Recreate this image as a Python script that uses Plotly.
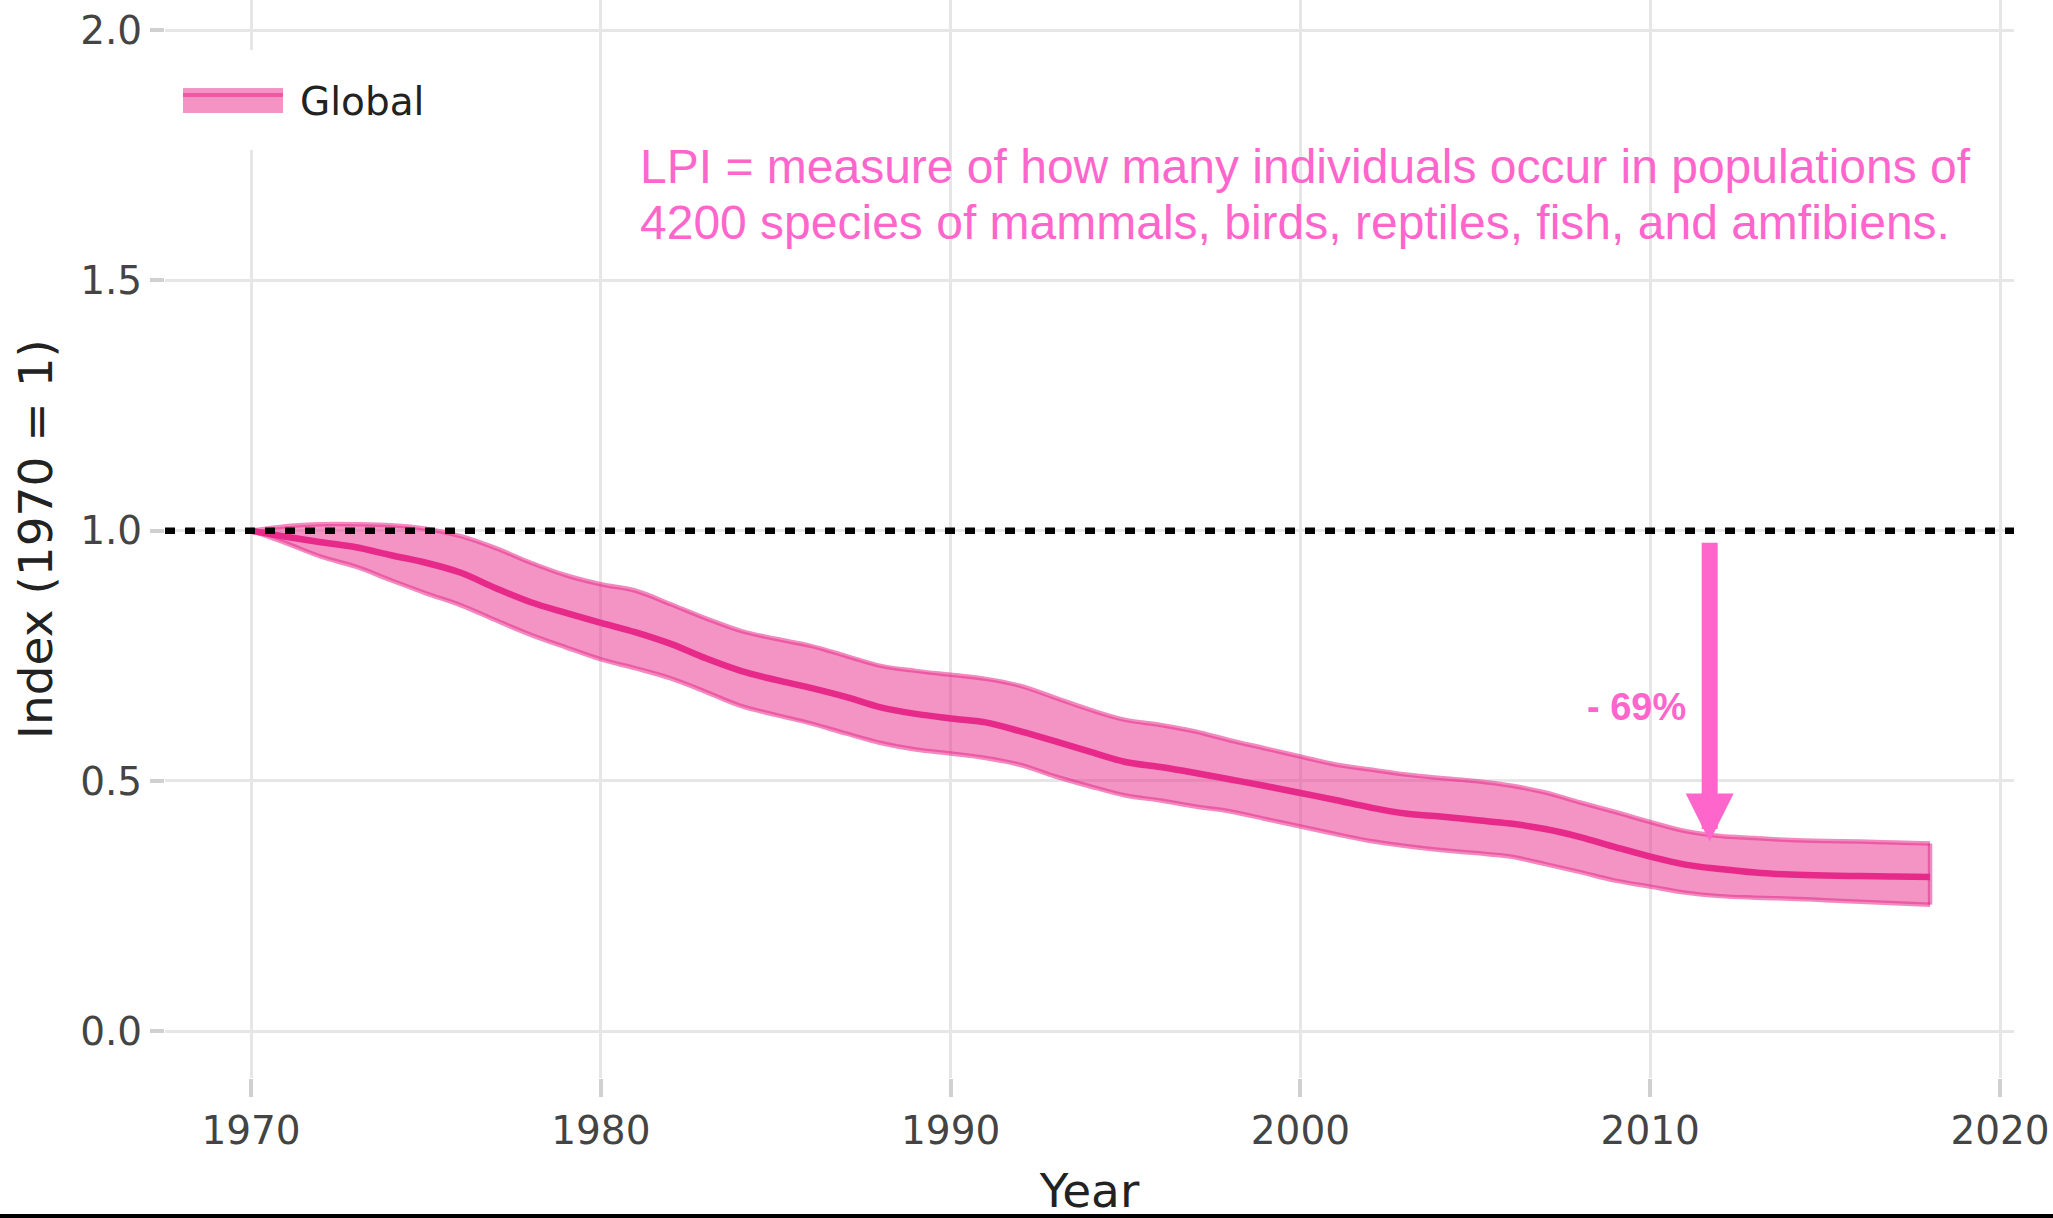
import plotly.graph_objects as go

# ---------------- data ----------------
years = list(range(1970, 2019))
lpi = [1.000, 0.988, 0.977, 0.967, 0.951, 0.936, 0.916, 0.885, 0.857, 0.836,
       0.816, 0.797, 0.774, 0.745, 0.720, 0.702, 0.686, 0.668, 0.647, 0.634,
       0.625, 0.617, 0.599, 0.579, 0.558, 0.538, 0.528, 0.516, 0.503, 0.490,
       0.476, 0.462, 0.447, 0.435, 0.429, 0.422, 0.415, 0.404, 0.388, 0.368,
       0.349, 0.333, 0.324, 0.317, 0.313, 0.311, 0.310, 0.309, 0.308]
upper = [1.000, 1.009, 1.013, 1.013, 1.011, 1.004, 0.989, 0.965, 0.936, 0.911,
         0.893, 0.880, 0.853, 0.825, 0.800, 0.784, 0.770, 0.750, 0.730, 0.720,
         0.712, 0.704, 0.690, 0.666, 0.642, 0.622, 0.612, 0.599, 0.581, 0.565,
         0.549, 0.533, 0.523, 0.513, 0.506, 0.500, 0.491, 0.477, 0.457, 0.438,
         0.418, 0.400, 0.390, 0.386, 0.382, 0.380, 0.379, 0.377, 0.375]
lower = [1.000, 0.975, 0.948, 0.928, 0.901, 0.875, 0.851, 0.821, 0.792, 0.767,
         0.743, 0.725, 0.705, 0.678, 0.650, 0.632, 0.615, 0.595, 0.576, 0.563,
         0.555, 0.546, 0.532, 0.509, 0.489, 0.471, 0.461, 0.449, 0.439, 0.424,
         0.409, 0.394, 0.380, 0.370, 0.362, 0.356, 0.349, 0.334, 0.318, 0.301,
         0.289, 0.277, 0.270, 0.267, 0.265, 0.262, 0.259, 0.256, 0.253]
series_name = "Global"
x_ticks = [1970, 1980, 1990, 2000, 2010, 2020]
y_ticks = [0.0, 0.5, 1.0, 1.5, 2.0]
y_ticktext = ["0.0", "0.5", "1.0", "1.5", "2.0"]
baseline = 1.0
decline_label = "- 69%"
arrow_year = 2011.7
arrow_from = 0.979
arrow_to = 0.379
note_lines = ["LPI = measure of how many individuals occur in populations of",
              "4200 species of mammals, birds, reptiles, fish, and amfibiens."]
note_x = 1981.06
note_y = [1.7285, 1.6147]

# ---------------- style ----------------
W, H = 2053, 1218
ML, MR, MT, MB = 165, 39, 0, 140
PW, PH = W - ML - MR, H - MT - MB
CORE = "#E7298A"
FILL = "rgba(231,41,138,0.5)"
EDGE = "rgba(231,41,138,0.55)"
HOT = "#FF66CC"
TICKFONT = dict(family="DejaVu Sans, Verdana", size=39, color="#444")
TITLEFONT = dict(family="DejaVu Sans, Verdana", size=47, color="#222")


def px_x(p):
    return (p - ML) / PW


def px_y(p):
    return (H - MB - p) / PH


fig = go.Figure()
fig.add_trace(go.Scatter(x=years, y=lower, mode="lines",
                         line=dict(color=EDGE, width=4.5, shape="spline"),
                         showlegend=False, hoverinfo="skip"))
fig.add_trace(go.Scatter(x=years, y=upper, mode="lines", fill="tonexty",
                         fillcolor=FILL,
                         line=dict(color=EDGE, width=4.5, shape="spline"),
                         name=series_name, showlegend=False))
fig.add_trace(go.Scatter(x=[years[-1], years[-1]], y=[lower[-1], upper[-1]],
                         mode="lines", line=dict(color=EDGE, width=4.5),
                         showlegend=False, hoverinfo="skip"))
fig.add_trace(go.Scatter(x=years, y=lpi, mode="lines",
                         line=dict(color=CORE, width=6.5, shape="spline"),
                         showlegend=False, name=series_name))

# baseline (index = 1)
fig.add_shape(type="line", xref="paper", yref="y", x0=0, x1=1,
              y0=baseline, y1=baseline, layer="above",
              line=dict(color="black", width=6.6, dash="10px,10px"))

# manual legend (scaled-up like the reference)
fig.add_shape(type="rect", xref="paper", yref="paper",
              x0=px_x(170), x1=px_x(440), y0=px_y(150), y1=px_y(50),
              fillcolor="white", line=dict(width=0), layer="above")
fig.add_shape(type="rect", xref="paper", yref="paper",
              x0=px_x(183), x1=px_x(283), y0=px_y(113), y1=px_y(88),
              fillcolor=FILL, line=dict(width=0), layer="above")
fig.add_shape(type="line", xref="paper", yref="paper",
              x0=px_x(183), x1=px_x(283), y0=px_y(95), y1=px_y(95),
              line=dict(color=EDGE, width=4), layer="above")
fig.add_annotation(xref="paper", yref="paper", x=px_x(298), y=px_y(101),
                   text=series_name, showarrow=False, xanchor="left",
                   yanchor="middle",
                   font=dict(family="DejaVu Sans, Verdana", size=39, color="#222"))

# explanatory note
for line_text, yv in zip(note_lines, note_y):
    fig.add_annotation(x=note_x, y=yv, xref="x", yref="y", text=line_text,
                       showarrow=False, xanchor="left", yanchor="middle",
                       align="left",
                       font=dict(family="Liberation Sans, Arial", size=48, color=HOT))

# arrow and label
fig.add_annotation(x=arrow_year, y=arrow_to, ax=arrow_year, ay=arrow_from,
                   xref="x", yref="y", axref="x", ayref="y", text="",
                   showarrow=True, arrowhead=2, arrowsize=0.6, arrowwidth=16,
                   arrowcolor=HOT)
fig.add_annotation(x=2009.62, y=0.648, xref="x", yref="y",
                   text="<b>" + decline_label + "</b>", showarrow=False,
                   font=dict(family="Liberation Sans, Arial", size=38, color=HOT))

# thin black bar at the bottom edge
fig.add_shape(type="rect", xref="paper", yref="paper",
              x0=px_x(0), x1=px_x(W), y0=px_y(H), y1=px_y(H - 4),
              fillcolor="black", line=dict(width=0), layer="above")

fig.update_layout(
    width=W, height=H,
    margin=dict(l=ML, r=MR, t=MT, b=MB, pad=0),
    paper_bgcolor="white", plot_bgcolor="white",
    showlegend=False,
    xaxis=dict(range=[1967.54, 2020.40], tickvals=x_ticks, automargin=False,
               ticks="outside", ticklen=18, tickwidth=4, tickcolor="#d0d0d0",
               showgrid=True, gridcolor="#e6e6e6", gridwidth=3.3,
               zeroline=False, showline=False,
               tickfont=TICKFONT,
               title=dict(text="Year", font=TITLEFONT, standoff=24)),
    yaxis=dict(range=[-0.0933, 2.0601], tickvals=y_ticks, ticktext=y_ticktext,
               automargin=False,
               ticks="outside", ticklen=14, tickwidth=4, tickcolor="#d0d0d0",
               showgrid=True, gridcolor="#e6e6e6", gridwidth=3.3,
               zeroline=False, showline=False,
               tickfont=TICKFONT,
               title=dict(text="Index (1970 = 1)", font=TITLEFONT, standoff=12)),
)

fig.write_html("out.html",
               config={"displayModeBar": False},
               post_script="document.body.style.margin='0';"
                           "document.body.style.overflow='hidden';")
